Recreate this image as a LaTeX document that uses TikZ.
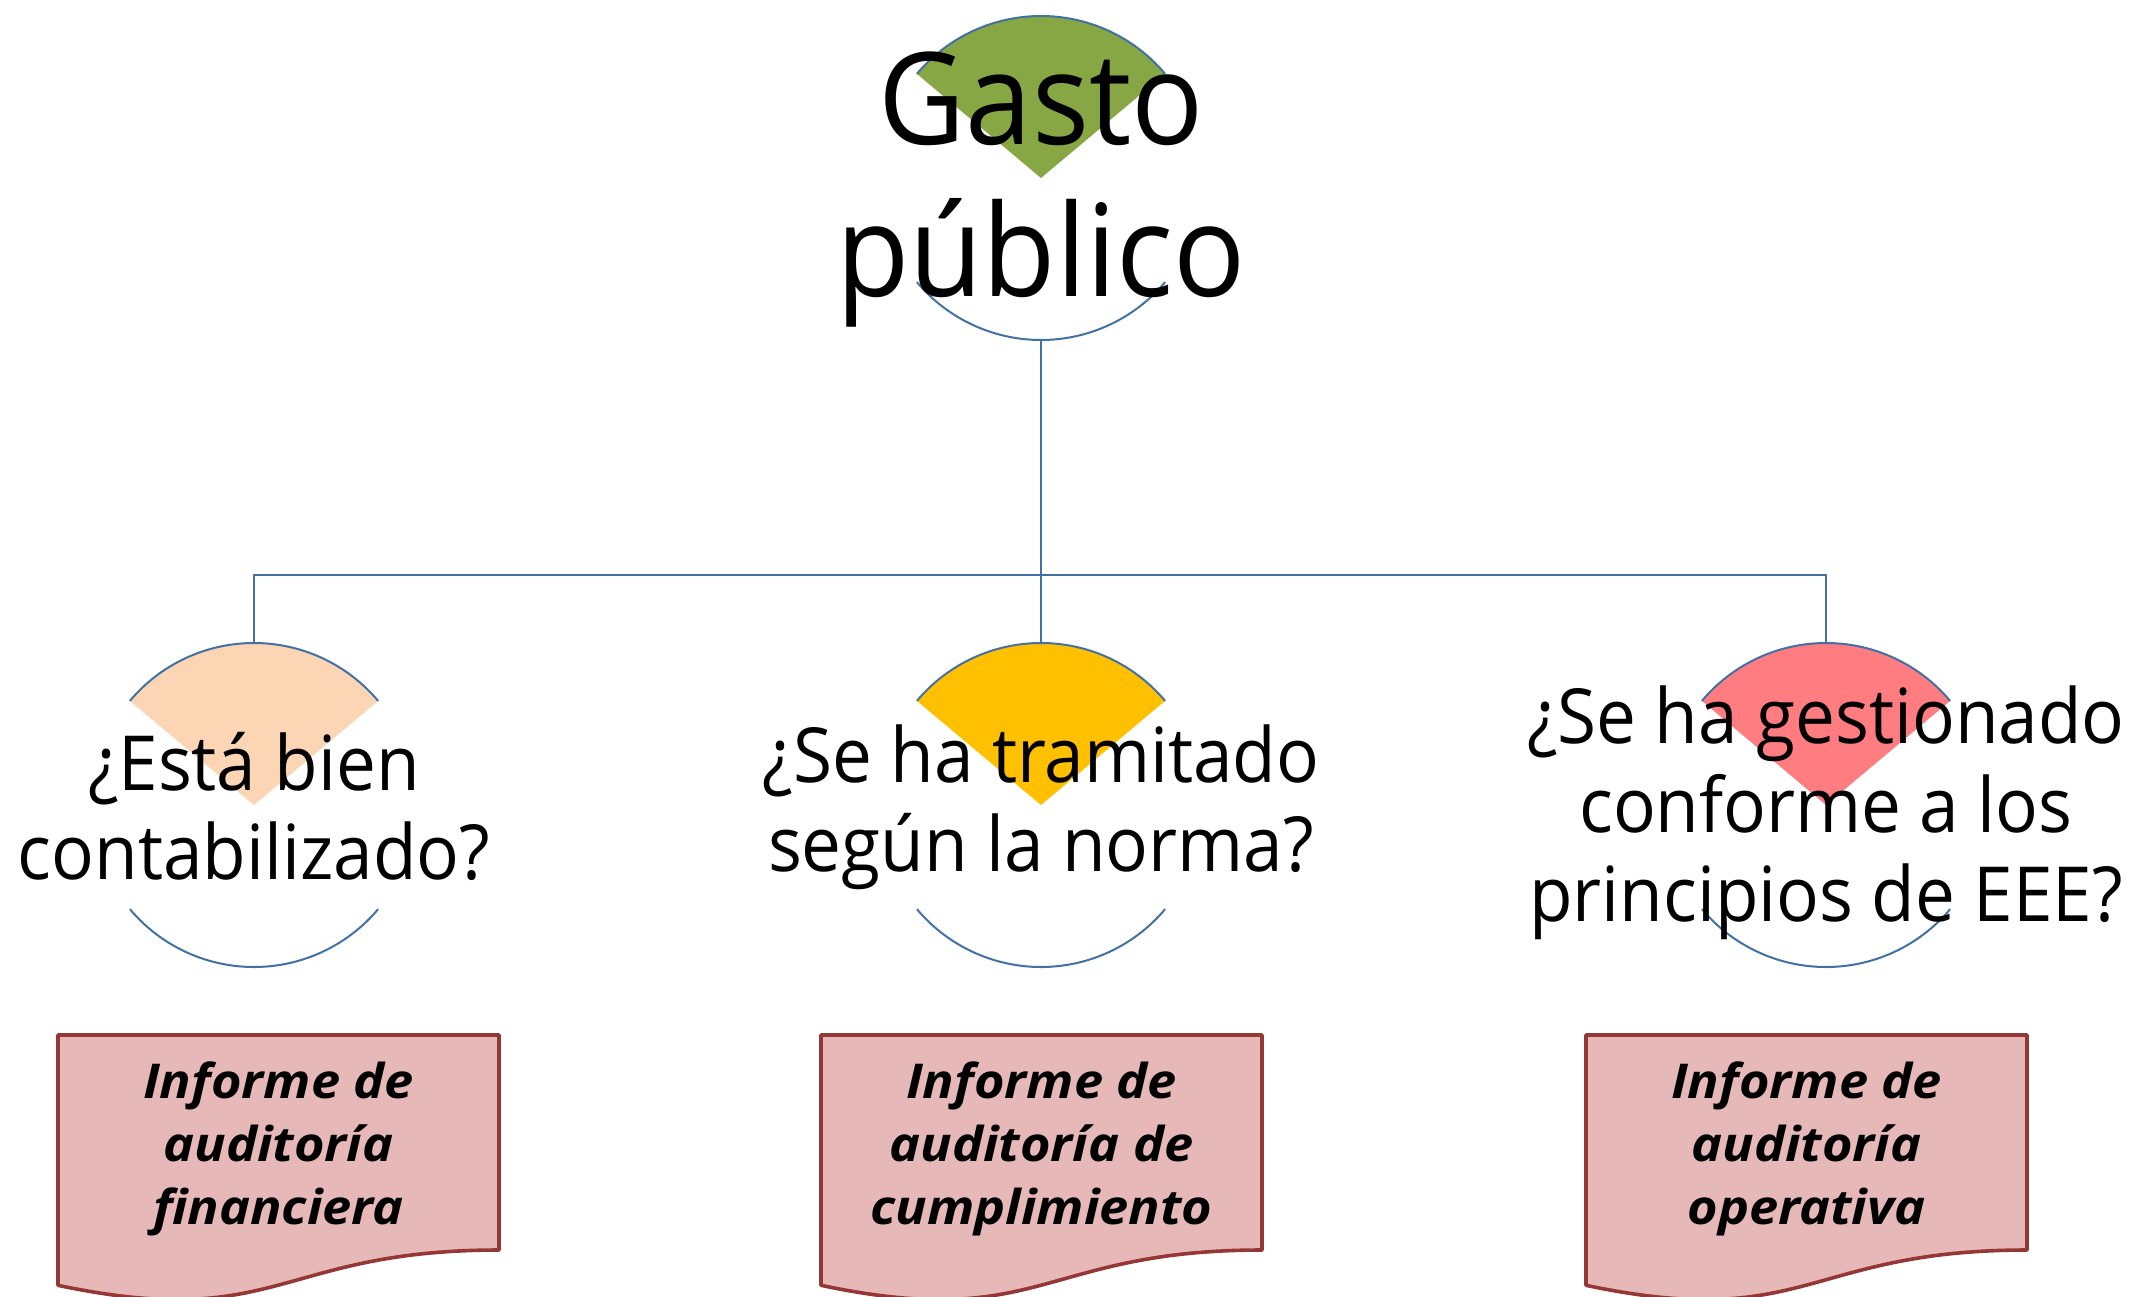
\documentclass[tikz,border=0pt]{standalone}
\usepackage{fontspec}
\setmainfont{Open Sans}
\newfontfamily\narrowfont[FakeStretch=0.935]{Open Sans}
\newfontfamily\docfont[FakeStretch=1.09]{Open Sans}
\definecolor{conncol}{RGB}{65,113,165}
\definecolor{gfill}{RGB}{134,167,68}
\definecolor{pfill}{RGB}{252,213,180}
\definecolor{yfill}{RGB}{255,192,0}
\definecolor{rfill}{RGB}{255,124,128}
\definecolor{docfill}{RGB}{230,185,184}
\definecolor{docline}{RGB}{149,55,53}
\tikzset{
  circ/.style={circle,minimum size=324pt,inner sep=0pt,outer sep=0pt},
  conn/.style={draw=conncol,line width=2pt},
  bigtxt/.style={align=center,inner sep=0pt,font=\narrowfont\fontsize{128}{152}\selectfont},
  midtxt/.style={align=center,inner sep=0pt,font=\narrowfont\fontsize{76}{89}\selectfont},
  doctxt/.style={align=center,inner sep=0pt,font=\docfont\fontsize{48}{63}\selectfont\bfseries\itshape},
  docshape/.style={fill=docfill,draw=docline,line width=3.6pt,line join=round},
}
\newcommand{\wedgeshape}[2]{%
  \fill[#2] (#1.center) -- (#1.40) arc[start angle=40,end angle=140,radius=162pt] -- cycle;
  \draw[conn] (#1.40) arc[start angle=40,end angle=140,radius=162pt];
  \draw[conn] (#1.220) arc[start angle=220,end angle=320,radius=162pt];
}
\newcommand{\docpath}[2]{%
  \draw[docshape] (#1,#2) -- ++(441,0) -- ++(0,-215)
    .. controls ++(-220.5,0) and (#1+220.5,#2-296.8) .. (#1,#2-250.3) -- cycle;
}
\begin{document}
\begin{tikzpicture}[x=1pt,y=1pt]
\useasboundingbox (0,0) rectangle (2135,-1296);
\clip (0,0) rectangle (2135,-1296);
\fill[white] (0,0) rectangle (2135,-1296);
% circle nodes
\node[circ] (g) at (1041,-178) {};
\node[circ] (a) at (254,-805) {};
\node[circ] (b) at (1041,-805) {};
\node[circ] (c) at (1826,-805) {};
\wedgeshape{g}{gfill}
\wedgeshape{a}{pfill}
\wedgeshape{b}{yfill}
\wedgeshape{c}{rfill}
% connectors
\coordinate (j) at (1041,-575);
\draw[conn] (g.south) -- (j);
\draw[conn] (a.north) |- (j) -| (c.north);
\draw[conn] (j) -- (b.north);
% texts
\node[bigtxt] (gt) at (1041,-190) {Gasto\\público};
\node[midtxt] (at) at (254,-806) {¿Está bien\\contabilizado?};
\node[midtxt] (bt) at (1041,-807) {¿Se ha tramitado\\según la norma?};
\node[midtxt] (ct) at (1826,-813) {¿Se ha gestionado\\conforme a los\\principios de EEE?};
% documents
\docpath{58}{-1035}
\docpath{821}{-1035}
\docpath{1586}{-1035}
\node[doctxt] (d1) at (278.5,-1149) {Informe de\\auditoría\\financiera};
\node[doctxt] (d2) at (1041.5,-1149) {Informe de\\auditoría de\\cumplimiento};
\node[doctxt] (d3) at (1806.5,-1149) {Informe de\\auditoría\\operativa};
\end{tikzpicture}
\end{document}
